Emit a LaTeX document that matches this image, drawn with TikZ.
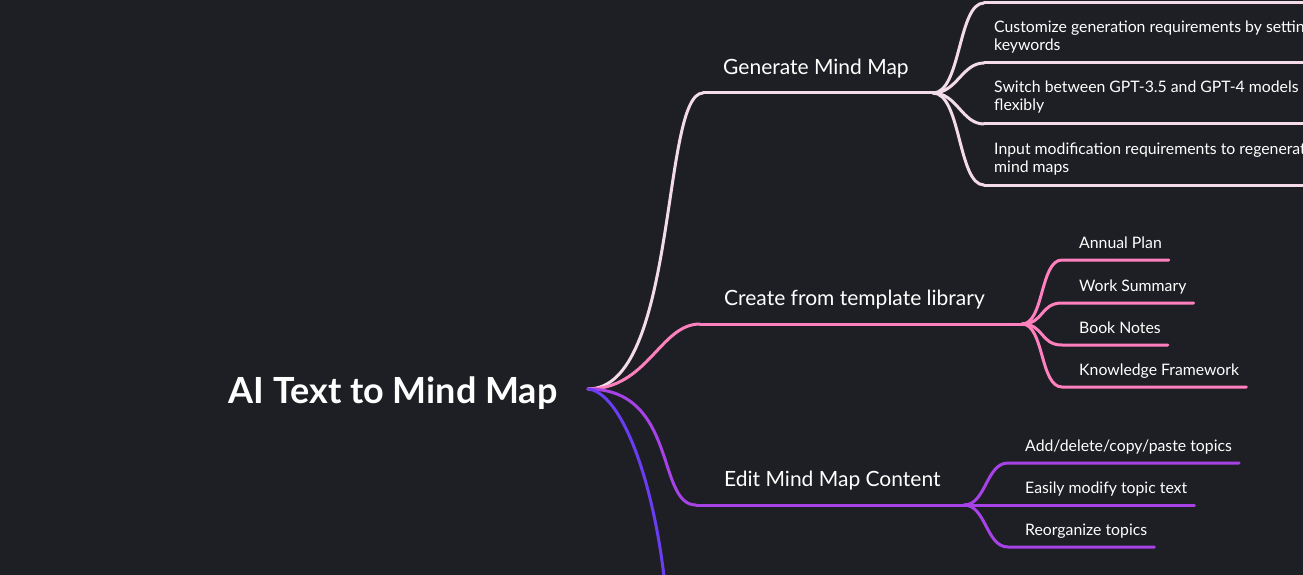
\documentclass[tikz,border=0pt]{standalone}
\usepackage{fontspec}
\setmainfont{Lato}
\definecolor{bgdark}{HTML}{1E1F24}
\definecolor{genpink}{HTML}{F3DCE8}
\definecolor{tplpink}{HTML}{FF80BF}
\definecolor{editpurple}{HTML}{A642E6}
\definecolor{moreblue}{HTML}{6A3DF2}
\begin{document}
\begin{tikzpicture}[x=1pt, y=-1pt,
	every node/.style={text=white, inner sep=0pt},
	link/.style={line width=3pt, line cap=round},
	rootnode/.style={font=\bfseries\fontsize{36}{42}\selectfont},
	branchnode/.style={font=\fontsize{21}{25}\selectfont, anchor=base west},
	leafnode/.style={font=\fontsize{15.8}{18}\selectfont, anchor=base west, align=left}]
	% \drawlink#from#to#outdx#indx#format
	\def\drawlink#1#2#3#4#5{
		\draw[link, #5] (#1) .. controls +(#3, 0) and +(-#4, 0) .. (#2);
	}
	
	% \drawleaf#junction#node#format
	\def\drawleaf#1#2#3{
		\draw[link, #3] (#1) .. controls +(22, 0) and +(-22, 0) .. ([shift={(-17pt,-12pt)}]#2.base west)
			-- ([shift={(7pt,-12pt)}]#2.base east);
	}
	
	\useasboundingbox (0, 0) rectangle (1303, 575);
	\clip (0, 0) rectangle (1303, 575);
	\fill[bgdark] (0, 0) rectangle (1303, 575);
	
	% root
	\node[rootnode, anchor=base] (root) at (393, 403) {AI Text to Mind Map};
	\coordinate (o) at (588, 389);
	
	% main branches
	\coordinate (genL) at (703, 93);
	\coordinate (genR) at (933, 93);
	\coordinate (tplL) at (700, 324);
	\coordinate (tplR) at (1022, 324);
	\coordinate (editL) at (696, 505);
	\coordinate (editR) at (964, 505);
	\coordinate (moreE) at (665, 585);
	
	\drawlink{o}{genL}{90}{42}{genpink}
	\drawlink{o}{tplL}{60}{40}{tplpink}
	\drawlink{o}{editL}{90}{40}{editpurple}
	\draw[link, moreblue] (o) .. controls +(32, 3) and +(-12, -110) .. (moreE);
	\draw[link, genpink] (genL) -- (genR);
	\draw[link, tplpink] (tplL) -- (tplR);
	\draw[link, editpurple] (editL) -- (editR);
	
	\node[branchnode] (gen) at (723, 75) {Generate Mind Map};
	\node[branchnode] (tpl) at (724, 305) {Create from template library};
	\node[branchnode] (edit) at (724, 486) {Edit Mind Map Content};
	
	% generate: boxes
	\foreach \y [count=\i] in {3, 63, 124, 185} {
		\coordinate (gb\i) at (984, \y);
		\coordinate (ge\i) at (1320, \y);
	}
	\drawlink{genR}{gb1}{28}{26}{genpink}
	\drawlink{genR}{gb2}{24}{22}{genpink}
	\drawlink{genR}{gb3}{24}{22}{genpink}
	\drawlink{genR}{gb4}{28}{26}{genpink}
	\foreach \i in {1,...,4} {
		\draw[link, genpink] (gb\i) -- (ge\i);
	}
	\node[leafnode] (cust) at (994, 51) {Customize generation requirements by setting\\keywords};
	\node[leafnode] (swit) at (994, 111) {Switch between GPT-3.5 and GPT-4 models\\flexibly};
	\node[leafnode] (inpt) at (994, 172) {Input modification requirements to regenerate\\mind maps};
	
	% template: leaves
	\node[leafnode] (plan) at (1079, 248) {Annual Plan};
	\node[leafnode] (summ) at (1079, 291) {Work Summary};
	\node[leafnode] (book) at (1079, 333) {Book Notes};
	\node[leafnode] (know) at (1079, 375) {Knowledge Framework};
	\foreach \n in {plan, summ, book, know} {
		\drawleaf{tplR}{\n}{tplpink}
	}
	
	% edit: leaves
	\node[leafnode] (addt) at (1025, 451) {Add/delete/copy/paste topics};
	\node[leafnode] (modt) at (1025, 493) {Easily modify topic text};
	\node[leafnode] (regt) at (1025, 535) {Reorganize topics};
	\foreach \n in {addt, modt, regt} {
		\drawleaf{editR}{\n}{editpurple}
	}
\end{tikzpicture}
\end{document}
